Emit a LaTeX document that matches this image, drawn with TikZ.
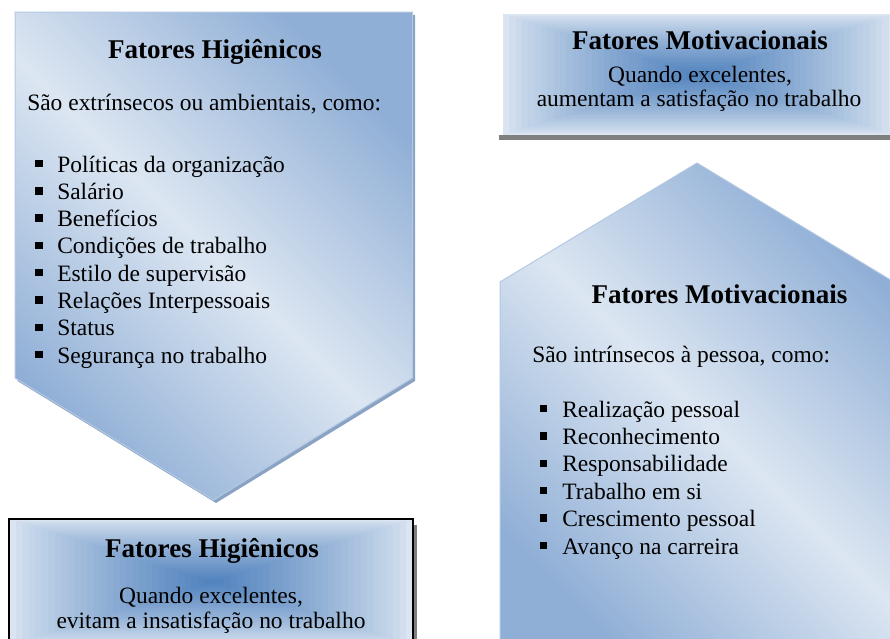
\documentclass[tikz,border=0pt]{standalone}
\usepackage{fontspec}
\setmainfont{Liberation Serif}
\usepackage{xcolor}
\usepackage{tikz}

\definecolor{pentdark}{HTML}{90AFD6}
\definecolor{pentlight}{HTML}{DCE6F2}
\definecolor{pentedge}{HTML}{B4C8E2}
\definecolor{pentshadow}{HTML}{8AA3C5}
\definecolor{glowblue}{HTML}{4F81BD}
\definecolor{glowlight}{HTML}{DBE5F1}
\definecolor{boxshadow}{HTML}{7F7F7F}

\tikzset{
  title/.style={font=\rmfamily\fontsize{20.3}{24}\selectfont\bfseries, inner sep=0pt, anchor=base},
  body/.style={font=\rmfamily\fontsize{17.6}{20.5}\selectfont, inner sep=0pt, anchor=base west},
  bodyc/.style={body, anchor=base},
  bullet/.style={fill=black, inner sep=0pt, minimum size=5.6pt},
  pentagon/.style={shading=axis, top color=pentdark, bottom color=pentdark, middle color=pentlight, shading angle=-45, draw=pentedge, line width=0.75pt}
}

\begin{document}
\begin{tikzpicture}[x=0.75pt,y=0.75pt,yscale=-1,xscale=1]
\useasboundingbox (0,0) rectangle (890,639);
\clip (0,0) rectangle (890,639);
%Shape: Pentagon (down) shadow
\fill [pentshadow, shift={(2.5,3)}] (15,12) -- (412.5,12) -- (412.5,378) -- (213.5,500) -- (15,378) -- cycle ;
%Shape: Pentagon (down)
\draw [pentagon] (15,12) -- (412.5,12) -- (412.5,378) -- (213.5,500) -- (15,378) -- cycle ;
%Shape: Pentagon (up) shadow
\fill [pentshadow, shift={(2.5,3)}] (500,282) -- (697,163) -- (894,282) -- (894,660) -- (500,660) -- cycle ;
%Shape: Pentagon (up)
\draw [pentagon] (500,282) -- (697,163) -- (894,282) -- (894,660) -- (500,660) -- cycle ;
%Shape: Rectangle shadow (top right)
\fill [boxshadow] (499,135) rectangle (891,140) ;
%Shape: Rectangle (top right)
\fill [glowlight] (503,14) rectangle (895,135) ;
\foreach \k in {1,...,30}{
  \pgfmathsetmacro{\t}{1-\k/31}
  \pgfmathsetmacro{\p}{100*(1-\t)^0.8}
  \fill [glowblue!\p!glowlight] (699-196*\t,74.5-60.5*\t) rectangle (699+196*\t,74.5+60.5*\t) ;
}
%Shape: Rectangle shadow (bottom left)
\fill [boxshadow] (13,525) rectangle (417,651) ;
%Shape: Rectangle (bottom left)
\fill [glowlight] (9,519) rectangle (413,645) ;
\foreach \k in {1,...,30}{
  \pgfmathsetmacro{\t}{1-\k/31}
  \pgfmathsetmacro{\p}{100*(1-\t)^0.8}
  \fill [glowblue!\p!glowlight] (211-202*\t,582-63*\t) rectangle (211+202*\t,582+63*\t) ;
}
\draw [line width=0.9pt] (9,519) rectangle (413,645) ;

% Text Node
\draw (215,58) node (hig-title) [title] {Fatores Higiênicos};
% Text Node
\draw (27,110) node (hig-intro) [body] {São extrínsecos ou ambientais, como:};
% Text Node
\draw (57,172) node (hig-i1) [body] {Políticas da organização};
\draw (39,163.5) node (hig-d1) [bullet] {};
% Text Node
\draw (57,199.3) node (hig-i2) [body] {Salário};
\draw (39,190.8) node (hig-d2) [bullet] {};
% Text Node
\draw (57,226.6) node (hig-i3) [body] {Benefícios};
\draw (39,218.1) node (hig-d3) [bullet] {};
% Text Node
\draw (57,253.9) node (hig-i4) [body] {Condições de trabalho};
\draw (39,245.4) node (hig-d4) [bullet] {};
% Text Node
\draw (57,281.2) node (hig-i5) [body] {Estilo de supervisão};
\draw (39,272.7) node (hig-d5) [bullet] {};
% Text Node
\draw (57,308.5) node (hig-i6) [body] {Relações Interpessoais};
\draw (39,300) node (hig-d6) [bullet] {};
% Text Node
\draw (57,335.8) node (hig-i7) [body] {Status};
\draw (39,327.3) node (hig-d7) [bullet] {};
% Text Node
\draw (57,363.1) node (hig-i8) [body] {Segurança no trabalho};
\draw (39,354.6) node (hig-d8) [bullet] {};

% Text Node
\draw (212,557) node (hig-box-title) [title] {Fatores Higiênicos};
% Text Node
\draw (211,603) node (hig-box-l1) [bodyc] {Quando excelentes,};
% Text Node
\draw (211,628) node (hig-box-l2) [bodyc] {evitam a insatisfação no trabalho};

% Text Node
\draw (700,50) node (mot-box-title) [title] {Fatores Motivacionais};
% Text Node
\draw (700,82) node (mot-box-l1) [bodyc] {Quando excelentes,};
% Text Node
\draw (699,106) node (mot-box-l2) [bodyc] {aumentam a satisfação no trabalho};

% Text Node
\draw (719.5,303) node (mot-title) [title] {Fatores Motivacionais};
% Text Node
\draw (532,362) node (mot-intro) [body] {São intrínsecos à pessoa, como:};
% Text Node
\draw (562,417) node (mot-i1) [body] {Realização pessoal};
\draw (543.5,408.5) node (mot-d1) [bullet] {};
% Text Node
\draw (562,444.4) node (mot-i2) [body] {Reconhecimento};
\draw (543.5,435.9) node (mot-d2) [bullet] {};
% Text Node
\draw (562,471.8) node (mot-i3) [body] {Responsabilidade};
\draw (543.5,463.3) node (mot-d3) [bullet] {};
% Text Node
\draw (562,499.2) node (mot-i4) [body] {Trabalho em si};
\draw (543.5,490.7) node (mot-d4) [bullet] {};
% Text Node
\draw (562,526.6) node (mot-i5) [body] {Crescimento pessoal};
\draw (543.5,518.1) node (mot-d5) [bullet] {};
% Text Node
\draw (562,554) node (mot-i6) [body] {Avanço na carreira};
\draw (543.5,545.5) node (mot-d6) [bullet] {};
\end{tikzpicture}
\end{document}
